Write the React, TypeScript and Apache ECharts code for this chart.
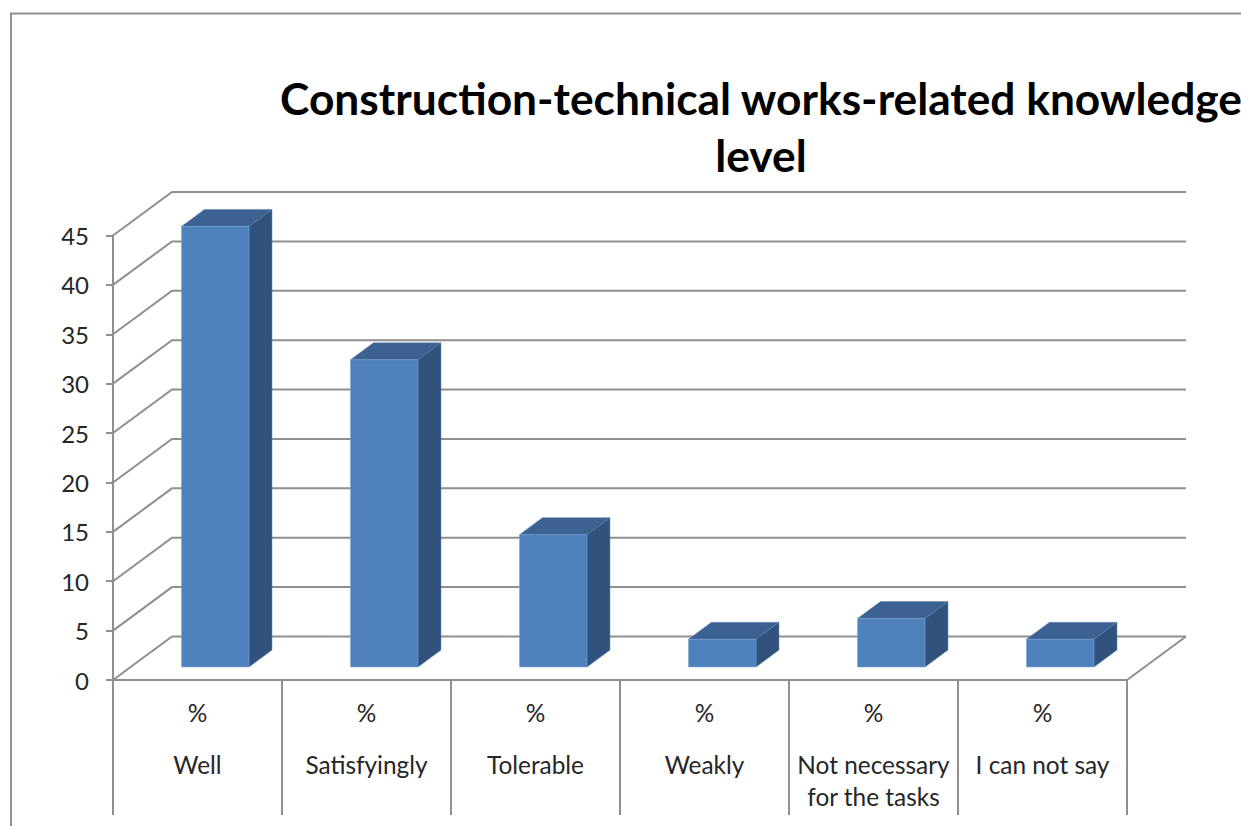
import React, { useEffect, useRef } from "react";
import * as echarts from "echarts";

const titleText = "Construction-technical works-related knowledge\nlevel";
const categories = ["Well", "Satisfyingly", "Tolerable", "Weakly", "Not necessary\nfor the tasks", "I can not say"];
const unitLabel = "%";
const percentValues = [44.6, 31.1, 13.4, 2.8, 4.9, 2.8];
const yTicks = [0, 5, 10, 15, 20, 25, 30, 35, 40, 45];

const GRID_COLOR = "#8f8f8f";
const BACK_DX = 59;
const BACK_DY = -43.5;
const BAR_WIDTH = 67.5;
const BAR_SHIFT = 17.7;
const BAR_FLOOR = -13;
const BAR_DX = 23;
const BAR_DY = -17;

export default function App() {
  const ref = useRef<HTMLDivElement>(null);
  useEffect(() => {
    const chart = echarts.init(ref.current!, null, { renderer: "svg", width: 1241, height: 826 });
    chart.setOption({
      animation: false,
      backgroundColor: "#ffffff",
      title: {
        text: titleText,
        left: 756,
        top: 64,
        textAlign: "center",
        textStyle: {
          fontFamily: "Lato",
          fontWeight: "bold",
          fontSize: 44.3,
          lineHeight: 57,
          color: "#000000",
        },
      },
      grid: { left: 113, top: 235.5, width: 1014, height: 444.5, containLabel: false },
      xAxis: {
        type: "category",
        data: categories,
        boundaryGap: true,
        axisLine: { show: true, lineStyle: { color: GRID_COLOR, width: 2 } },
        axisTick: { show: true, length: 135, alignWithLabel: false, lineStyle: { color: GRID_COLOR, width: 2 } },
        axisLabel: {
          interval: 0,
          margin: 36,
          fontFamily: "Lato",
          color: "#262626",
          formatter: (name: string) =>
            `{p|${unitLabel}}\n` + name.split("\n").map((s) => `{n|${s}}`).join("\n"),
          rich: {
            p: { fontFamily: "Lato", fontSize: 24.4, color: "#262626", lineHeight: 32, padding: [0, 0, 40, 0] },
            n: { fontFamily: "Lato", fontSize: 24.4, color: "#262626", lineHeight: 32 },
          },
        },
      },
      yAxis: {
        type: "value",
        min: 0,
        max: 45,
        interval: 5,
        splitLine: { show: false },
        axisLine: { show: true, lineStyle: { color: GRID_COLOR, width: 2 } },
        axisTick: { show: true, length: 7, lineStyle: { color: GRID_COLOR, width: 2 } },
        axisLabel: { margin: 24, fontFamily: "Lato", fontSize: 24, color: "#262626" },
      },
      series: [
        {
          type: "custom",
          name: "walls",
          silent: true,
          z: 1,
          data: yTicks.map((v) => [0, v]),
          encode: { x: 0, y: 1 },
          renderItem: (_p: any, api: any) => {
            const v = api.value(1);
            const band = api.size([1, 0])[0];
            const a = api.coord([0, v]);
            const b = api.coord([categories.length - 1, v]);
            const x0 = a[0] - band / 2;
            const x1 = b[0] + band / 2;
            const y = a[1];
            const style = { stroke: GRID_COLOR, lineWidth: 2, fill: "none" };
            const children: any[] = [
              {
                type: "polyline",
                shape: { points: [[x0, y], [x0 + BACK_DX, y + BACK_DY], [x1 + BACK_DX, y + BACK_DY]] },
                style,
              },
            ];
            if (v === 0) {
              children.push({
                type: "line",
                shape: { x1: x1, y1: y, x2: x1 + BACK_DX, y2: y + BACK_DY },
                style,
              });
            }
            return { type: "group", children };
          },
        },
        {
          type: "custom",
          name: "%",
          silent: true,
          z: 3,
          data: percentValues.map((v, i) => [i, v]),
          encode: { x: 0, y: 1 },
          renderItem: (_p: any, api: any) => {
            const i = api.value(0);
            const v = api.value(1);
            const base = api.coord([i, 0]);
            const top = api.coord([i, v]);
            const x0 = base[0] + BAR_SHIFT - BAR_WIDTH / 2;
            const x1 = x0 + BAR_WIDTH;
            const yb = base[1] + BAR_FLOOR;
            const yt = top[1] + BAR_FLOOR;
            return {
              type: "group",
              children: [
                {
                  type: "polygon",
                  shape: { points: [[x1, yt], [x1 + BAR_DX, yt + BAR_DY], [x1 + BAR_DX, yb + BAR_DY], [x1, yb]] },
                  style: { fill: "#31527c", stroke: "#4f74a3", lineWidth: 0.5 },
                },
                {
                  type: "polygon",
                  shape: { points: [[x0, yt], [x0 + BAR_DX, yt + BAR_DY], [x1 + BAR_DX, yt + BAR_DY], [x1, yt]] },
                  style: { fill: "#3c6292", stroke: "#5b83b5", lineWidth: 0.5 },
                },
                {
                  type: "rect",
                  shape: { x: x0, y: yt, width: BAR_WIDTH, height: yb - yt },
                  style: { fill: "#4f81bd", stroke: "#7ea6d6", lineWidth: 0.5 },
                },
              ],
            };
          },
        },
      ],
      graphic: [
        {
          type: "polyline",
          silent: true,
          shape: { points: [[11, 826], [11, 13.5], [1241, 13.5]] },
          style: { stroke: GRID_COLOR, lineWidth: 2, fill: "none" },
        },
      ],
    });
    return () => chart.dispose();
  }, []);
  return <div ref={ref} style={{ position: "fixed", left: 0, top: 0, width: 1241, height: 826 }} />;
}
